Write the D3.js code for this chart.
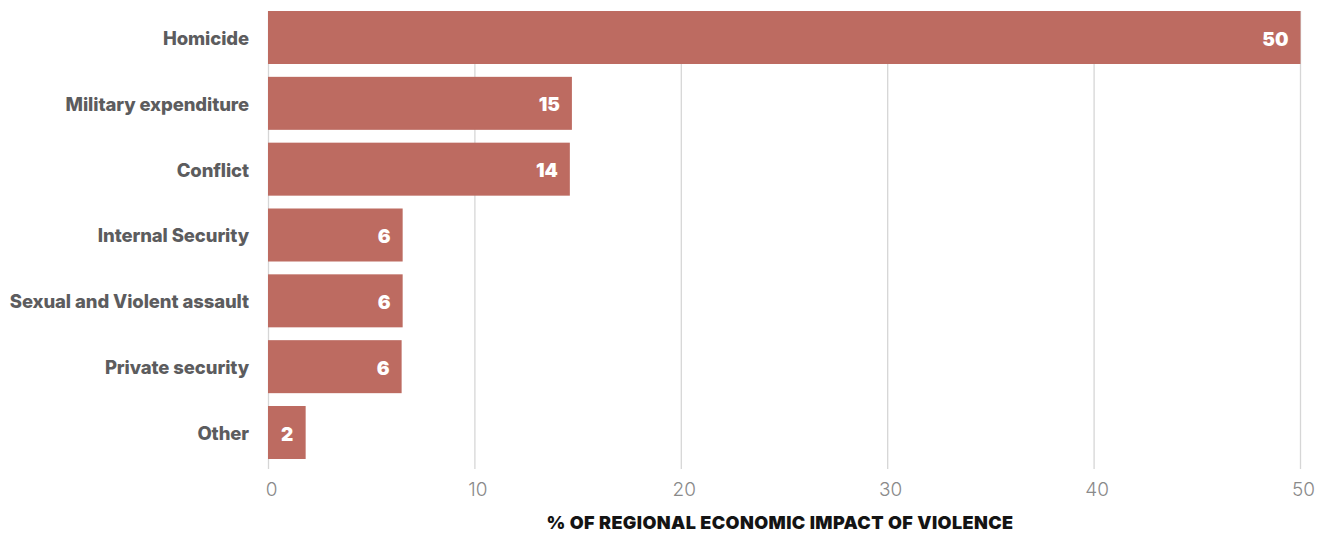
<!DOCTYPE html>
<html><head><meta charset="utf-8">
<script src="https://cdn.jsdelivr.net/npm/d3@7"></script>
<style>body{margin:0;background:#fff;}svg{display:block;}</style>
</head><body><svg id="c" width="1331" height="534"></svg>
<script>
const categories = ["Homicide","Military expenditure","Conflict","Internal Security","Sexual and Violent assault","Private security","Other"];
const values = [50, 14.7, 14.6, 6.5, 6.5, 6.45, 1.8];
const valueLabels = ["50","15","14","6","6","6","2"];
const tickValues = [0,10,20,30,40,50];
const axisTitle = "% OF REGIONAL ECONOMIC IMPACT OF VIOLENCE";

const svg = d3.select("#c");
const x = d3.scaleLinear().domain([0,50]).range([268.5,1300.5]);
const y = d3.scaleBand().domain(categories).range([11,459]).paddingInner(0.195).paddingOuter(0);
const font = "Inter, 'Noto Sans', sans-serif";

// grid
svg.append("g").selectAll("line").data(tickValues).join("line")
  .attr("x1",d=>x(d)).attr("x2",d=>x(d)).attr("y1",11).attr("y2",469)
  .attr("stroke","#d6d6d6").attr("stroke-width",1.3);

// bars
svg.append("g").selectAll("rect").data(categories).join("rect")
  .attr("x",x(0)-0.5).attr("y",d=>y(d)).attr("height",y.bandwidth())
  .attr("width",(d,i)=>x(values[i])-x(0)+0.5).attr("fill","#bd6b61");

// category labels
svg.append("g").selectAll("text").data(categories).join("text")
  .attr("x",249).attr("y",d=>y(d)+y.bandwidth()/2+1).attr("dy","0.35em")
  .attr("text-anchor","end").attr("font-family",font).attr("font-weight",800)
  .attr("font-size",18.5).attr("letter-spacing",-0.1).attr("fill","#5c5c5e").text(d=>d);

// value labels
svg.append("g").selectAll("text").data(categories).join("text")
  .attr("x",(d,i)=> (x(values[i])-x(0) < 60) ? (x(0)+x(values[i]))/2 : x(values[i])-12)
  .attr("text-anchor",(d,i)=> (x(values[i])-x(0) < 60) ? "middle" : "end")
  .attr("y",d=>y(d)+y.bandwidth()/2+1).attr("dy","0.37em")
  .attr("font-family",font).attr("font-weight",900).attr("font-size",19)
  .attr("fill","#fff").text((d,i)=>valueLabels[i]);

// ticks
svg.append("g").selectAll("text").data(tickValues).join("text")
  .attr("x",d=>x(d)+3).attr("y",496).attr("text-anchor","middle")
  .attr("font-family",font).attr("font-weight",300).attr("font-size",19)
  .attr("fill","#8a8a8a").text(d=>d);

// axis title
svg.append("text").attr("x",780).attr("y",529).attr("text-anchor","middle")
  .attr("font-family",font).attr("font-weight",900).attr("font-size",18)
  .attr("letter-spacing",0.4).attr("fill","#141414").text(axisTitle);
</script></body></html>
